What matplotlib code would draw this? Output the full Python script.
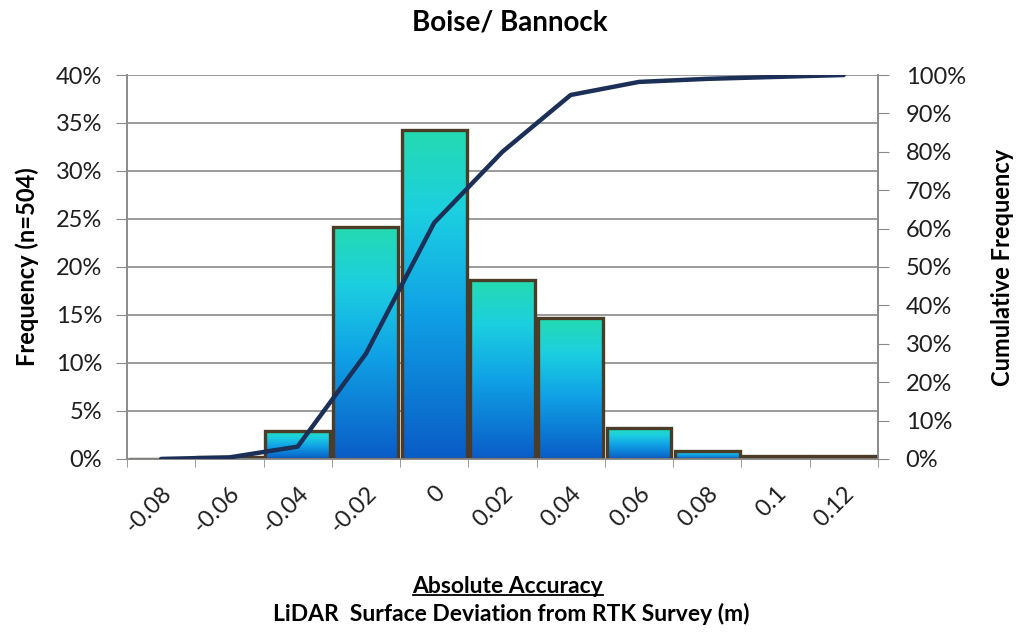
import numpy as np
import matplotlib
matplotlib.use("Agg")
import matplotlib.pyplot as plt
from matplotlib.colors import LinearSegmentedColormap
from matplotlib.lines import Line2D

# dados
categorias = ["-0.08", "-0.06", "-0.04", "-0.02", "0", "0.02", "0.04", "0.06", "0.08", "0.1", "0.12"]
frequencia = [0.0, 0.2, 2.95, 24.2, 34.3, 18.6, 14.65, 3.25, 0.85, 0.3, 0.3]
acumulada = [0.0, 0.4, 3.2, 27.4, 61.5, 80.0, 94.8, 98.2, 99.0, 99.5, 100.0]

plt.rcParams['font.family'] = ['Lato', 'DejaVu Sans']

fig = plt.figure(figsize=(10.16, 6.33), dpi=100)
ax = fig.add_axes([0.125, 0.275, 0.739, 0.6065])

x = np.arange(len(categorias))
barras = ax.bar(x, frequencia, width=0.95, facecolor='none', edgecolor='#4a3c26',
                linewidth=2.4, zorder=3)

# gradiente em cada barra (verde-agua no topo, azul na base)
cmap = LinearSegmentedColormap.from_list(
    'grad', [(0.0, '#0a5cc6'), (0.45, '#10a2e6'), (0.75, '#1ccfe0'), (1.0, '#24dbb0')])
grad = np.linspace(0, 1, 256).reshape(-1, 1)
for b in barras:
    h = b.get_height()
    if h <= 0:
        continue
    x0 = b.get_x()
    im = ax.imshow(grad, cmap=cmap, origin='lower', aspect='auto',
                   extent=[x0, x0 + b.get_width(), 0, h], zorder=2)
    im.set_clip_path(b)

ax.set_xlim(-0.5, len(categorias) - 0.5)
ax.set_ylim(0, 40)
ax.set_yticks(np.arange(0, 41, 5))
ax.set_yticklabels([f"{v}%" for v in range(0, 41, 5)], fontsize=17, color='#1e1e1e')
ax.yaxis.grid(True, color='#8a8a8a', linewidth=1.2, zorder=0)
ax.set_axisbelow(True)

ax.set_xticks(x)
ax.set_xticklabels(categorias, fontsize=17, rotation=45, ha='right',
                   rotation_mode='anchor', color='#1e1e1e')
ax.tick_params(axis='x', which='major', length=0, pad=17)
ax.set_xticks(np.arange(-0.5, len(categorias), 1), minor=True)
ax.tick_params(axis='x', which='minor', length=6, color='#8a8a8a', direction='out')
ax.tick_params(axis='y', length=8, color='#8a8a8a', pad=10)

ax.spines['top'].set_visible(False)
for lado in ['left', 'right', 'bottom']:
    ax.spines[lado].set_color('#8a8a8a')
    ax.spines[lado].set_linewidth(1.2)

ax.set_ylabel("Frequency (n=504)", fontsize=17, fontweight='bold', labelpad=12)

# eixo da frequencia acumulada
ax2 = ax.twinx()
ax2.plot(x, acumulada, color='#1b2f57', linewidth=3.2, solid_capstyle='round', zorder=5)
ax2.set_ylim(0, 100)
ax2.set_yticks(np.arange(0, 101, 10))
ax2.set_yticklabels([f"{v}%" for v in range(0, 101, 10)], fontsize=17, color='#1e1e1e')
ax2.tick_params(axis='y', length=8, color='#8a8a8a', pad=12)
ax2.spines['top'].set_visible(False)
for lado in ['left', 'right', 'bottom']:
    ax2.spines[lado].set_color('#8a8a8a')
    ax2.spines[lado].set_linewidth(1.2)
ax2.set_ylabel("Cumulative Frequency", fontsize=17, fontweight='bold', labelpad=18)

fig.text(0.502, 0.965, "Boise/ Bannock", ha='center', va='center', fontsize=20, fontweight='bold')
t1 = fig.text(0.500, 0.074, "Absolute Accuracy", ha='center', va='center', fontsize=16.5, fontweight='bold')
fig.text(0.503, 0.03, "LiDAR  Surface Deviation from RTK Survey (m)", ha='center', va='center',
         fontsize=16.5, fontweight='bold')

# sublinhado do titulo do eixo x
fig.canvas.draw()
bb = t1.get_window_extent().transformed(fig.transFigure.inverted())
fig.add_artist(Line2D([bb.x0, bb.x1], [bb.y0 + 0.002, bb.y0 + 0.002], color='black',
                      linewidth=1.3, transform=fig.transFigure))

fig.savefig("out.png", dpi=100)
